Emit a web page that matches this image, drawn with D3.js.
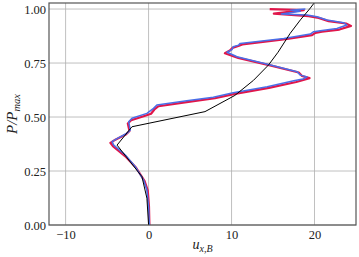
<!DOCTYPE html>
<html>
<head>
<meta charset="utf-8">
<script src="https://cdn.jsdelivr.net/npm/d3@7"></script>
<style>
  body { margin: 0; background: #fff; }
  text { font-family: "Liberation Serif", "DejaVu Serif", serif; }
</style>
</head>
<body>
<div id="chart"></div>
<script>
const width = 359, height = 257;
const margin = {top: 3, right: 3, bottom: 32, left: 49};

// ticks
const xTicks = [-10, 0, 10, 20];
const yTicks = [0, 0.25, 0.5, 0.75, 1.0];

// model curve (black)
const modelP = [0, 0.124, 0.224, 0.37, 0.455, 0.525, 0.6, 0.67, 0.741, 0.8, 0.8875, 0.95, 1.0, 1.04];
const modelU = [0, -0.2, -0.8, -3.8, -2.0, 6.8, 10.4, 12.65, 14.46, 15.6, 17.07, 18.3, 19.4, 20.2];

// blue trace
const blueP = [0, 0.085, 0.162, 0.208, 0.27, 0.324, 0.37, 0.386, 0.40, 0.425, 0.44, 0.478, 0.494, 0.517, 0.54, 0.556,
  0.575, 0.592, 0.612, 0.64, 0.668, 0.676, 0.686, 0.694, 0.71, 0.741, 0.779, 0.787, 0.80, 0.812, 0.825, 0.833, 0.841,
  0.864, 0.884, 0.895, 0.90, 0.91, 0.926, 0.937, 0.949, 0.964, 0.972, 0.977, 0.99, 0.995, 1.0];
const blueU = [0.1, 0.0, -0.2, -0.6, -1.6, -2.8, -4.2, -4.4, -3.8, -2.6, -2.2, -2.4, -2.0, -0.2, 0.6, 1.0,
  4.6, 7.8, 10.2, 14.3, 17.5, 18.6, 19.1, 18.3, 17.9, 14.7, 10.65, 10.2, 9.45, 10.05, 10.2, 10.85, 11.05,
  16.3, 19.5, 19.9, 20.7, 22.7, 23.9, 23.5, 21.5, 20.3, 19.1, 16.0, 18.3, 17.1, 18.9];

// red trace
const redP = [0, 0.085, 0.16, 0.205, 0.265, 0.318, 0.365, 0.38, 0.395, 0.42, 0.435, 0.47, 0.485, 0.505, 0.515, 0.535, 0.55,
  0.57, 0.587, 0.607, 0.635, 0.662, 0.68, 0.69, 0.706, 0.737, 0.774, 0.795, 0.808, 0.82, 0.83, 0.836,
  0.86, 0.879, 0.89, 0.895, 0.905, 0.922, 0.933, 0.944, 0.959, 0.967, 0.979, 0.995, 1.0];
const redU = [0.1, 0.05, -0.1, -0.5, -1.5, -2.8, -4.3, -4.6, -4.0, -2.7, -2.3, -2.5, -2.1, -0.5, 0.3, 0.7, 1.2,
  4.8, 8.0, 10.4, 14.5, 17.8, 19.4, 18.5, 18.1, 14.9, 10.8, 9.2, 9.8, 10.1, 10.9, 11.3,
  16.5, 19.7, 20.1, 20.9, 23.0, 24.4, 23.8, 21.7, 20.5, 19.3, 15.1, 18.7, 14.6];

const svg = d3.select("#chart").append("svg")
    .attr("width", width)
    .attr("height", height);

const x = d3.scaleLinear().domain([-12, 25]).range([margin.left, width - margin.right]);
const y = d3.scaleLinear().domain([0, 1.028]).range([height - margin.bottom, margin.top]);

// grid
svg.append("g").selectAll("line").data(xTicks).join("line")
    .attr("x1", d => x(d)).attr("x2", d => x(d))
    .attr("y1", y(0)).attr("y2", margin.top)
    .attr("stroke", "#b0b0b0").attr("stroke-width", 0.8);
svg.append("g").selectAll("line").data(yTicks).join("line")
    .attr("x1", margin.left).attr("x2", width - margin.right)
    .attr("y1", d => y(d)).attr("y2", d => y(d))
    .attr("stroke", "#b0b0b0").attr("stroke-width", 0.8);

svg.append("clipPath").attr("id", "clip").append("rect")
    .attr("x", margin.left).attr("y", margin.top)
    .attr("width", width - margin.left - margin.right)
    .attr("height", height - margin.top - margin.bottom);

const plot = svg.append("g").attr("clip-path", "url(#clip)");

function series(P, U) { return P.map((p, i) => [U[i], p]); }
const line = d3.line().x(d => x(d[0])).y(d => y(d[1]));

plot.append("path").datum(series(redP, redU))
    .attr("d", line).attr("fill", "none")
    .attr("stroke", "#e0164a").attr("stroke-width", 2.2).attr("stroke-linejoin", "round");
plot.append("path").datum(series(blueP, blueU))
    .attr("d", line).attr("fill", "none")
    .attr("stroke", "#4a6ee8").attr("stroke-width", 1.5).attr("stroke-linejoin", "round");
plot.append("path").datum(series(modelP, modelU))
    .attr("d", line).attr("fill", "none")
    .attr("stroke", "#000").attr("stroke-width", 1);

// axes (no tick marks, labels only)
const xAxis = svg.append("g")
    .attr("transform", `translate(0,${y(0)})`)
    .call(d3.axisBottom(x).tickValues(xTicks).tickSize(0).tickPadding(5)
      .tickFormat(d => d < 0 ? "\u2212" + Math.abs(d) : d));
const yAxis = svg.append("g")
    .attr("transform", `translate(${margin.left},0)`)
    .call(d3.axisLeft(y).tickValues(yTicks).tickSize(0).tickPadding(3).tickFormat(d3.format(".2f")));

[xAxis, yAxis].forEach(g => {
  g.select(".domain").remove();
  g.selectAll("text").attr("font-size", 12.5).attr("fill", "#222")
    .style("font-family", "'Liberation Serif', serif");
});

// frame
svg.append("rect")
    .attr("x", margin.left).attr("y", margin.top)
    .attr("width", width - margin.left - margin.right)
    .attr("height", height - margin.top - margin.bottom)
    .attr("fill", "none").attr("stroke", "#555").attr("stroke-width", 1.2);

// labels
const xl = svg.append("text")
    .attr("x", (margin.left + width - margin.right) / 2)
    .attr("y", 249)
    .attr("text-anchor", "middle")
    .attr("font-size", 14).attr("font-style", "italic").attr("fill", "#222");
xl.append("tspan").text("u");
xl.append("tspan").attr("font-size", 10).attr("dy", 3).text("x,B");

const yl = svg.append("text")
    .attr("transform", `translate(17,${(margin.top + y(0)) / 2}) rotate(-90)`)
    .attr("text-anchor", "middle")
    .attr("font-size", 15).attr("font-style", "italic").attr("fill", "#222");
yl.append("tspan").text("P/P");
yl.append("tspan").attr("font-size", 10.5).attr("dy", 3).text("max");
</script>
</body>
</html>
